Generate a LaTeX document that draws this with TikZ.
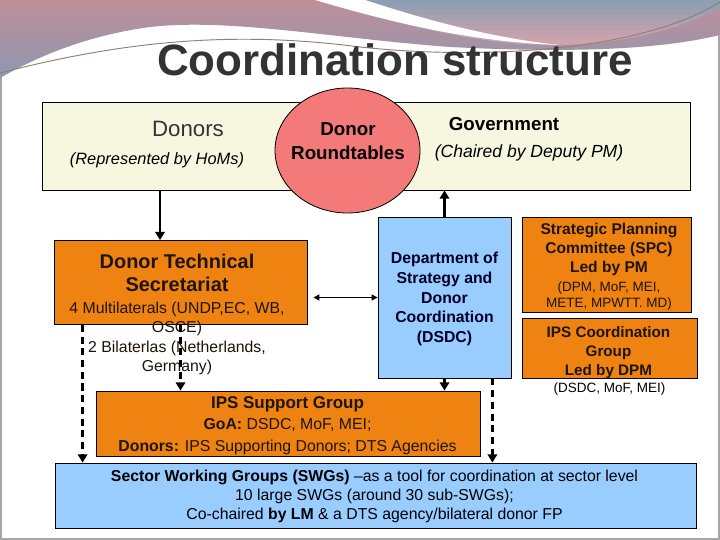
\documentclass[tikz,border=0pt]{standalone}
\usepackage{fontspec}
\setmainfont{Liberation Sans}
\usetikzlibrary{arrows.meta,shapes.geometric}

\newlength\px
\setlength\px{0.03cm}

\definecolor{cream}{HTML}{F7F7E0}
\definecolor{boxorange}{HTML}{EE8311}
\definecolor{boxblue}{HTML}{99CCFF}
\definecolor{roundred}{HTML}{F47A7A}
\definecolor{titlegrey}{HTML}{333333}
\definecolor{ink}{HTML}{1E1408}
\definecolor{mauve}{HTML}{BE8E99}
\definecolor{slateblue}{HTML}{7F9CB9}
\definecolor{greyblue}{HTML}{8C9FB3}
\definecolor{rosepink}{HTML}{DAA3AB}

\begin{document}
\begin{tikzpicture}[x=0.03cm, y=-0.03cm,
    panel/.style={draw=black, line width=0.7pt, fill=cream, inner sep=0pt},
    orangebox/.style={draw=black, line width=0.7pt, fill=boxorange, inner sep=0pt},
    bluebox/.style={draw=black, line width=0.7pt, fill=boxblue, inner sep=0pt},
    lbl/.style={inner sep=0pt, align=center},
    solidarrow/.style={line width=2pt, -{Triangle[length=7pt,width=8pt]}},
    dasharrow/.style={solidarrow, dash pattern=on 6pt off 4pt},
    linkarrow/.style={line width=1.1pt, {Triangle[length=5pt,width=5pt]}-{Triangle[length=5pt,width=5pt]}}]
    \useasboundingbox (0,0) rectangle (720,540);
    % slide background
    \fill[white] (0,0) rectangle (720,540);
    \draw[gray!70, line width=1pt] (1,1) rectangle (719,539);

    % top level
    \node[panel, minimum width=648*\px, minimum height=88*\px] (forum) at (366,146) {};
    \node[lbl, font=\fontsize{19}{22}\selectfont, text=titlegrey] (donors) at (188,129) {Donors};
    \node[lbl, font=\fontsize{14}{17}\selectfont\itshape] (homs) at (157,160.5) {(Represented by HoMs)};
    \node[lbl, font=\fontsize{16}{19}\selectfont\bfseries] (govt) at (504,124.5) {Government};
    \node[lbl, font=\fontsize{15}{18}\selectfont\itshape] (chair) at (529,153) {(Chaired by Deputy PM)};
    \node[ellipse, draw=black, line width=0.7pt, fill=roundred, minimum width=145*\px, minimum height=125*\px] (rt) at (347.5,150.5) {};
    \node[lbl, font=\fontsize{16}{21}\selectfont\bfseries] (rtlabel) at (348,141) {Donor\\Roundtables};

    % second level
    \node[orangebox, minimum width=253*\px, minimum height=84*\px] (dts) at (180.5,282.5) {};
    \node[lbl, text=ink, font=\fontsize{13.5}{16.7}\selectfont] (dtslabel) at (177,314.4)
        {{\fontsize{17}{20}\selectfont\bfseries Donor Technical}\\[2.9pt]
         {\fontsize{17}{20}\selectfont\bfseries Secretariat}\\[2pt]
         4 Multilaterals (UNDP,EC, WB,\\OSCE)\\2 Bilaterlas (Netherlands,\\Germany)};
    \node[bluebox, minimum width=133*\px, minimum height=161*\px] (dsdc) at (444.5,297.5) {};
    \node[lbl, text=black!85!blue, font=\fontsize{13.5}{16.7}\selectfont\bfseries] (dsdclabel) at (444.5,299)
        {Department of\\Strategy and\\Donor\\Coordination\\(DSDC)};
    \node[orangebox, minimum width=169*\px, minimum height=95*\px] (spc) at (606.5,264.5) {};
    \node[lbl, text=ink, font=\fontsize{13.3}{16.2}\selectfont] (spclabel) at (609,266.8)
        {\textbf{Strategic Planning}\\\textbf{Committee (SPC)}\\\textbf{Led by PM}\\
         {\fontsize{11.5}{13}\selectfont (DPM, MoF, MEI,}\\[-2.9pt]
         {\fontsize{11.5}{13}\selectfont METE, MPWTT. MD)}};
    \node[orangebox, minimum width=175*\px, minimum height=60*\px] (ipscg) at (609.5,348) {};
    \node[lbl, text=ink, font=\fontsize{13}{16.4}\selectfont\bfseries] (ipscglabel) at (608.5,352.4)
        {IPS Coordination\\Group\\Led by DPM};
    \node[lbl, font=\fontsize{11.5}{13}\selectfont] (ipscgmembers) at (609.5,389.4) {(DSDC, MoF, MEI)};

    % lower levels
    \node[orangebox, minimum width=384*\px, minimum height=65*\px] (ipss) at (288,423.5) {};
    \node[lbl, text=ink, font=\fontsize{13.5}{18.3}\selectfont] (ipsslabel) at (287.5,425.3)
        {{\fontsize{14.5}{17}\selectfont\bfseries IPS Support Group}\\
         \textbf{GoA:} DSDC, MoF, MEI;\\
         \textbf{Donors:} IPS Supporting Donors; DTS Agencies};
    \node[bluebox, minimum width=641*\px, minimum height=65*\px] (swg) at (375.5,495.5) {};
    \node[lbl, font=\fontsize{13.5}{16.3}\selectfont] (swglabel) at (374.5,496.7)
        {\textbf{Sector Working Groups (SWGs)} --as a tool for coordination at sector level\\
         10 large SWGs (around 30 sub-SWGs);\\
         Co-chaired \textbf{by LM} \& a DTS agency/bilateral donor FP};

    % connectors
    \draw[solidarrow] ([xshift=-20.5*\px]dts.north |- forum.south) -- ([xshift=-20.5*\px]dts.north);
    \draw[solidarrow] (dsdc.north) -- (dsdc.north |- forum.south);
    \draw[linkarrow] ([xshift=6*\px]dts.east |- dsdc.west) -- (dsdc.west);
    \draw[dasharrow] ([xshift=29*\px]dts.south west) -- ([xshift=29*\px]dts.south west |- swg.north);
    \draw[dasharrow] (dts.south) -- (dts.south |- ipss.north);
    \draw[dasharrow] (dsdc.south) -- (dsdc.south |- ipss.north);
    \draw[dasharrow] ([xshift=-19*\px]dsdc.south east) -- ([xshift=-19*\px]dsdc.south east |- swg.north);

    % header swooshes
    \begin{scope}
        \clip (0,0) -- (720,0) -- (720,35) .. controls (650,52) and (550,52) .. (450,47)
            .. controls (330,38) and (230,18) .. (150,27) .. controls (90,35) and (40,55) .. (0,78) -- cycle;
        \foreach \i in {0,...,15} {
            \pgfmathtruncatemacro\mix{100-\i*5}
            \fill[mauve!\mix!slateblue] (0,5*\i) rectangle (720,5*\i+5.5);
        }
    \end{scope}
    \begin{scope}
        \clip (325,0) -- (720,0) -- (720,8) .. controls (680,30) and (620,44) .. (560,45)
            .. controls (480,46) and (400,25) .. (325,0) -- cycle;
        \foreach \i in {0,...,9} {
            \pgfmathtruncatemacro\mix{100-\i*11}
            \fill[greyblue!\mix!rosepink] (325,5*\i) rectangle (720,5*\i+5.5);
        }
    \end{scope}
    \fill[white] (315,0) -- (365,0) .. controls (420,18) and (490,38) .. (560,45) .. controls (470,42) and (390,22) .. (315,0) -- cycle;
    \draw[gray!70!brown, line width=0.8pt] (0,73) .. controls (120,42) and (230,30) .. (360,47) .. controls (480,60) and (640,52) .. (720,2);

    \node[font=\fontsize{37.5}{42}\selectfont\bfseries, text=titlegrey] (title) at (395,60) {Coordination structure};
\end{tikzpicture}
\end{document}
